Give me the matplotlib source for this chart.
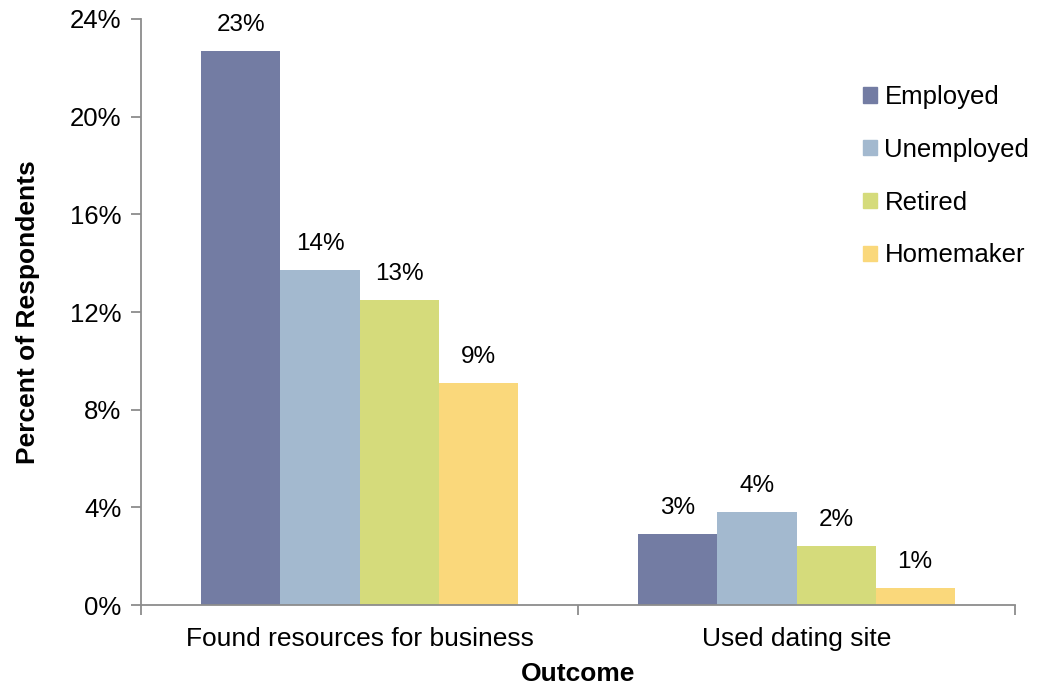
import matplotlib.pyplot as plt
import numpy as np
from matplotlib.patches import Patch

plt.rcParams['font.family'] = ['Liberation Sans', 'DejaVu Sans']

categories = ['Found resources for business', 'Used dating site']
groups = ['Employed', 'Unemployed', 'Retired', 'Homemaker']
colors = ['#737ca3', '#a3b9cf', '#d5db7b', '#fad87b']
values = {
    'Employed': [22.7, 2.9],
    'Unemployed': [13.7, 3.8],
    'Retired': [12.5, 2.4],
    'Homemaker': [9.1, 0.7],
}
labels = {
    'Employed': ['23%', '3%'],
    'Unemployed': ['14%', '4%'],
    'Retired': ['13%', '2%'],
    'Homemaker': ['9%', '1%'],
}
yticks = [0, 4, 8, 12, 16, 20, 24]

fig = plt.figure(figsize=(10.46, 6.88), dpi=100)
ax = fig.add_axes([0.1348, 0.1206, 0.8356, 0.8518])

x = np.arange(len(categories))
w = 0.181
for i, g in enumerate(groups):
    pos = x + (i - 1.5) * w
    bars = ax.bar(pos, values[g], w, color=colors[i], label=g)
    for b, lab in zip(bars, labels[g]):
        ax.text(b.get_x() + b.get_width() / 2, b.get_height() + 0.62, lab,
                ha='center', va='bottom', fontsize=17.5)

ax.set_xlim(-0.5, 1.5)
ax.set_ylim(0, 24)
ax.set_yticks(yticks)
ax.set_yticklabels([f'{t}%' for t in yticks], fontsize=18.5)
ax.set_xticks([-0.5, 0.5, 1.5], minor=False)
ax.set_xticklabels([])
ax.set_xticks(x, minor=True)
ax.set_xticklabels(categories, minor=True, fontsize=19)
ax.tick_params(axis='x', which='minor', length=0, pad=16)
ax.tick_params(axis='x', which='major', length=7, color='#8c8c8c', width=1.3)
ax.tick_params(axis='y', length=7, color='#8c8c8c', width=1.3, pad=7)

for s in ['top', 'right']:
    ax.spines[s].set_visible(False)
for s in ['left', 'bottom']:
    ax.spines[s].set_color('#8c8c8c')
    ax.spines[s].set_linewidth(1.3)

ax.set_xlabel('Outcome', fontsize=19, fontweight='bold', labelpad=8)
ax.set_ylabel('Percent of Respondents', fontsize=19, fontweight='bold', labelpad=22)

handles = [Patch(color=c, label=g) for c, g in zip(colors, groups)]
ax.legend(handles=handles, loc='upper left', bbox_to_anchor=(0.805, 0.918),
          frameon=False, fontsize=18.5, handlelength=0.55, handleheight=0.55,
          handletextpad=0.3, labelspacing=1.12, borderpad=0.2)

fig.savefig('out.png', dpi=100)
